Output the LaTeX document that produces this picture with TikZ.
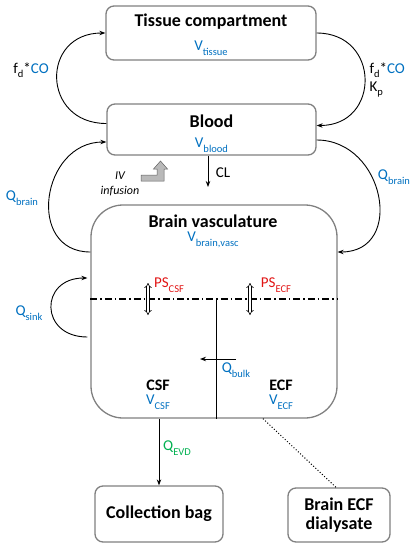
\documentclass[tikz,border=0pt]{standalone}
\usepackage{fontspec}
\setmainfont{Carlito}
\usetikzlibrary{calc,arrows.meta}
\definecolor{qblue}{RGB}{0,112,192}
\definecolor{psred}{RGB}{225,20,20}
\definecolor{evdgreen}{RGB}{0,176,80}
\newcommand{\low}[1]{\raisebox{-0.3em}{\fontsize{10.5}{12}\selectfont #1}}

\begin{document}
\begin{tikzpicture}[x=1pt, y=-1pt, font=\fontsize{15}{18}\selectfont,
  comp/.style={draw=gray, line width=1.3pt, rounded corners=8pt},
  title/.style={font=\fontsize{18}{21}\selectfont\bfseries},
  flow/.style={line width=0.9pt, -{Stealth[length=6pt,width=4.5pt]}},
  vol/.style={text=qblue}]
  \useasboundingbox (0,0) rectangle (420,550);

  % TISSUE and BLOOD
  \node[comp, minimum width=210pt, minimum height=54pt] (tissue) at (211,33) {};
  \node[title] (tissuet) at (211,22) {Tissue compartment};
  \node[vol] (tissuev) at (211,48) {V\low{tissue}};
  \node[comp, minimum width=209pt, minimum height=51pt] (blood) at (211.5,129.5) {};
  \node[title] (bloodt) at (211.5,121) {Blood};
  \node[vol] (bloodv) at (211.5,145) {V\low{blood}};

  \draw[flow] ([yshift=6pt]blood.west) .. controls +(-65,0) and +(-65,0) .. (tissue.west);
  \draw[flow] (tissue.east) .. controls +(64,0) and +(64,0) .. ([yshift=4pt]blood.east);
  \node (fdl) at (31,70) {f\low{d}*\textcolor{qblue}{CO}};
  \node[align=left, anchor=west] (fdr) at (366,80) {f\low{d}*\textcolor{qblue}{CO}\\K\low{p}};

  % CL and IV infusion
  \coordinate (clend) at (208,187);
  \draw[flow] ([xshift=-3.5pt]blood.south) -- (clend);
  \node (cl) at (223,173) {CL};
  \node[font=\fontsize{12}{15}\selectfont\itshape, align=center] (iv) at (120,184) {IV\\infusion};
  \filldraw[fill=gray!55, draw=gray!75!black, line width=0.5pt]
    (141,175) -- (157,175) -- (157,169) -- (153.5,169) -- (160.5,161)
    -- (167.5,169) -- (164,169) -- (164,181) -- (141,181) -- cycle;

  % BRAIN vasculature
  \node[comp, rounded corners=32pt, minimum width=246pt, minimum height=213pt] (brain) at (214,311.5) {};
  \node[title] (braint) at (213,221) {Brain vasculature};
  \node[vol] (brainv) at (213,240) {V\low{brain,vasc}};

  \draw[flow] ([yshift=59.5pt]brain.west) .. controls +(-65,0) and +(-65,0) .. ([yshift=-12.5pt]blood.west);
  \draw[flow] ([yshift=-10.5pt]blood.east) .. controls +(68,0) and +(68,0) .. ([yshift=59.5pt]brain.east);
  \node[vol] (qbl) at (22,198) {Q\low{brain}};
  \node[vol] (qbr) at (394,177) {Q\low{brain}};

  % membranes
  \draw[line width=1.1pt, dash pattern=on 7pt off 3pt on 1.5pt off 3pt]
    ([yshift=12.5pt]brain.west) -- ([yshift=12.5pt]brain.east);
  \coordinate (split) at (216,299);
  \draw[line width=1pt] (split) -- (split |- brain.south);
  \foreach \x in {148, 250}
    \draw[double, double distance=2pt, line width=0.6pt, {Implies}-{Implies}] (\x,283) -- (\x,315);
  \node[text=psred] (pscsf) at (169,285) {PS\low{CSF}};
  \node[text=psred] (psecf) at (276,285) {PS\low{ECF}};

  \draw[flow] ([yshift=-25.5pt, xshift=-3pt]brain.west) .. controls +(-48,0) and +(-48,0) .. ([yshift=33.5pt, xshift=-3pt]brain.west);
  \node[vol] (qsink) at (29,313) {Q\low{sink}};

  \coordinate (bulka) at (236,359);
  \coordinate (bulkb) at (200,359);
  \draw[flow] (bulka) -- (bulkb);
  \node[vol] (qbulk) at (236,370) {Q\low{bulk}};

  \node[title, font=\fontsize{16}{19}\selectfont\bfseries] (csf) at (158,385) {CSF};
  \node[vol] (vcsf) at (158,402) {V\low{CSF}};
  \node[title, font=\fontsize{16}{19}\selectfont\bfseries] (ecf) at (281,385) {ECF};
  \node[vol] (vecf) at (281,402) {V\low{ECF}};

  % OUTPUTS
  \node[comp, title, minimum width=128pt, minimum height=56pt] (bag) at (159,514) {Collection bag};
  \node[comp, title, align=center, minimum width=102pt, minimum height=54pt] (dialysate) at (339,515) {Brain ECF\\[-2pt]dialysate};
  \draw[flow] (brain.south -| bag.north) -- (bag.north);
  \node[text=evdgreen] (qevd) at (177,448) {Q\low{EVD}};
  \draw[line width=1pt, dotted] ([xshift=49pt]brain.south) -- ([xshift=-3pt]dialysate.north);
\end{tikzpicture}
\end{document}
